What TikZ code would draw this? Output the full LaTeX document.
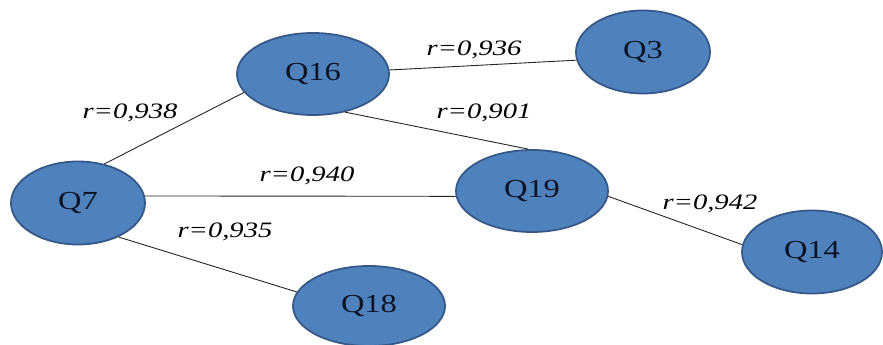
\documentclass[tikz,border=0pt]{standalone}
\usepackage{fontspec}
\setmainfont{Liberation Serif}
\usetikzlibrary{shapes.geometric}
\definecolor{qfill}{HTML}{4F81BD}
\definecolor{qedge}{HTML}{36598A}
\definecolor{qtext}{HTML}{0A1428}
\begin{document}
\begin{tikzpicture}[x=1pt,y=1pt,
  qnode/.style={ellipse,fill=qfill,draw=qedge,line width=1.8pt,inner sep=0pt,
    text=qtext,font=\fontsize{26}{26}\selectfont},
  rlab/.style={inner sep=0pt,font=\fontsize{22}{22}\selectfont\itshape},
  link/.style={draw=black!85,line width=0.9pt}]
\useasboundingbox (0,0) rectangle (883,345);
\newcommand{\qt}[1]{\scalebox{1.25}[1]{#1}}
\node[qnode,minimum width=134,minimum height=83] (Q7) at (78,142) {\qt{Q7}};
\node[qnode,minimum width=152,minimum height=82] (Q16) at (313,271) {\qt{Q16}};
\node[qnode,minimum width=152,minimum height=80] (Q18) at (369,39) {\qt{Q18}};
\node[qnode,minimum width=134,minimum height=83] (Q3) at (643,293) {\qt{Q3}};
\node[qnode,minimum width=152,minimum height=82] (Q19) at (532,154) {\qt{Q19}};
\node[qnode,minimum width=140,minimum height=83] (Q14) at (812,93) {\qt{Q14}};
\path[link] (Q7.56) -- (Q16.195);
\path[link] (Q16.3) -- (Q3.187);
\path[link] (Q16.-50) -- (Q19.95);
\path[link] (Q7.6) -- (Q19.184);
\path[link] (Q7.-40) -- (Q18.169);
\path[link] (Q19.-4) -- (Q14.174);
\node[rlab] (l1) at (130,232) {\scalebox{1.3}[1]{r=0,938}};
\node[rlab] (l2) at (474,295) {\scalebox{1.3}[1]{r=0,936}};
\node[rlab] (l3) at (484,232) {\scalebox{1.3}[1]{r=0,901}};
\node[rlab] (l4) at (307,169) {\scalebox{1.3}[1]{r=0,940}};
\node[rlab] (l5) at (225,113) {\scalebox{1.3}[1]{r=0,935}};
\node[rlab] (l6) at (710,141) {\scalebox{1.3}[1]{r=0,942}};
\end{tikzpicture}
\end{document}
